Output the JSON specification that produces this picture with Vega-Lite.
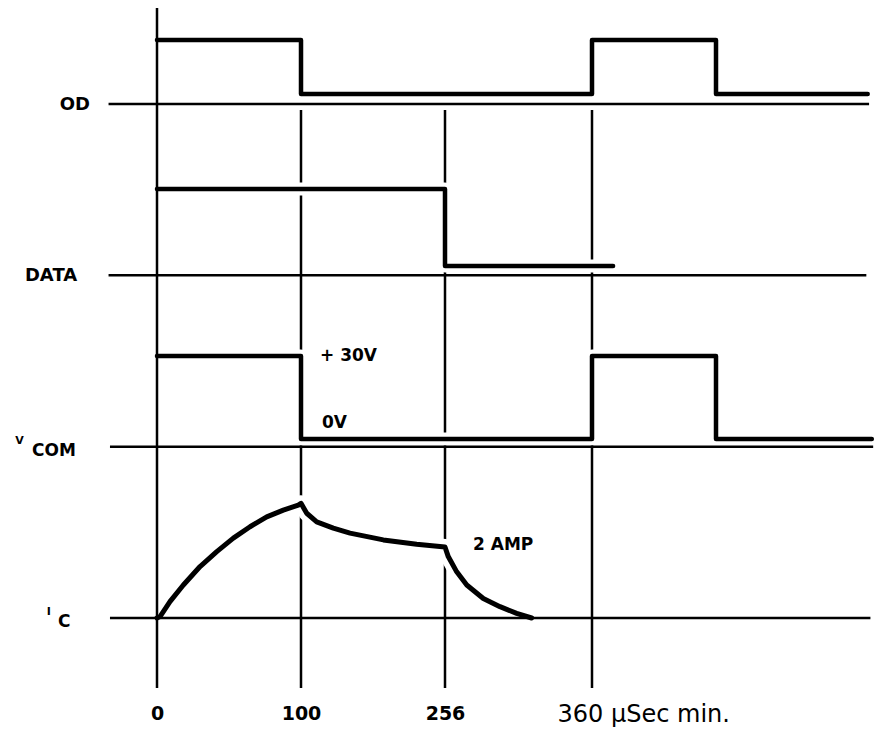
{
  "$schema": "https://vega.github.io/schema/vega-lite/v6.json",
  "width": 881,
  "height": 697,
  "padding": {"left": 0, "top": 0, "right": 0, "bottom": 34},
  "autosize": {"type": "none"},
  "background": "white",
  "config": {
    "view": {"stroke": null},
    "text": {"font": "DejaVu Sans", "fontWeight": "bold", "fontSize": 17, "baseline": "middle", "color": "black"}
  },
  "datasets": {
    "signals": [
      {"s": "OD", "i": 0, "t": 0, "v": 1},
      {"s": "OD", "i": 1, "t": 100, "v": 1},
      {"s": "OD", "i": 2, "t": 100, "v": 0},
      {"s": "OD", "i": 3, "t": 360, "v": 0},
      {"s": "OD", "i": 4, "t": 360, "v": 1},
      {"s": "OD", "i": 5, "t": 460, "v": 1},
      {"s": "OD", "i": 6, "t": 460, "v": 0},
      {"s": "OD", "i": 7, "t": 571, "v": 0},
      {"s": "DATA", "i": 0, "t": 0, "v": 1},
      {"s": "DATA", "i": 1, "t": 256, "v": 1},
      {"s": "DATA", "i": 2, "t": 256, "v": 0},
      {"s": "DATA", "i": 3, "t": 377, "v": 0},
      {"s": "VCOM", "i": 0, "t": 0, "v": 30},
      {"s": "VCOM", "i": 1, "t": 100, "v": 30},
      {"s": "VCOM", "i": 2, "t": 100, "v": 0},
      {"s": "VCOM", "i": 3, "t": 360, "v": 0},
      {"s": "VCOM", "i": 4, "t": 360, "v": 30},
      {"s": "VCOM", "i": 5, "t": 460, "v": 30},
      {"s": "VCOM", "i": 6, "t": 460, "v": 0},
      {"s": "VCOM", "i": 7, "t": 574, "v": 0},
      {"s": "IC", "i": 0, "t": 0, "v": 0},
      {"s": "IC", "i": 1, "t": 2.1, "v": 0.04},
      {"s": "IC", "i": 2, "t": 9.0, "v": 0.46},
      {"s": "IC", "i": 3, "t": 18.3, "v": 0.93},
      {"s": "IC", "i": 4, "t": 29.9, "v": 1.45},
      {"s": "IC", "i": 5, "t": 41.5, "v": 1.87},
      {"s": "IC", "i": 6, "t": 53.0, "v": 2.25},
      {"s": "IC", "i": 7, "t": 64.6, "v": 2.57},
      {"s": "IC", "i": 8, "t": 76.2, "v": 2.85},
      {"s": "IC", "i": 9, "t": 87.7, "v": 3.04},
      {"s": "IC", "i": 10, "t": 98.1, "v": 3.18},
      {"s": "IC", "i": 11, "t": 100, "v": 3.23},
      {"s": "IC", "i": 12, "t": 106.2, "v": 2.95},
      {"s": "IC", "i": 13, "t": 117.0, "v": 2.71},
      {"s": "IC", "i": 14, "t": 135.0, "v": 2.53},
      {"s": "IC", "i": 15, "t": 153.1, "v": 2.39},
      {"s": "IC", "i": 16, "t": 189.2, "v": 2.2},
      {"s": "IC", "i": 17, "t": 225.3, "v": 2.08},
      {"s": "IC", "i": 18, "t": 256, "v": 2.0},
      {"s": "IC", "i": 19, "t": 258.3, "v": 1.73},
      {"s": "IC", "i": 20, "t": 264.3, "v": 1.3},
      {"s": "IC", "i": 21, "t": 271.4, "v": 0.93},
      {"s": "IC", "i": 22, "t": 283.1, "v": 0.55},
      {"s": "IC", "i": 23, "t": 294.9, "v": 0.32},
      {"s": "IC", "i": 24, "t": 306.7, "v": 0.13},
      {"s": "IC", "i": 25, "t": 317.3, "v": 0}
    ],
    "guides": [{"t": 0}, {"t": 100}, {"t": 256}, {"t": 360}],
    "rows": [
      {"signal": "OD", "t": -34, "t2": 572},
      {"signal": "DATA", "t": -34, "t2": 570},
      {"signal": "VCOM", "t": -33, "t2": 575},
      {"signal": "IC", "t": -33, "t2": 573}
    ],
    "names": [
      {"signal": "OD", "t": -47, "label": "OD", "part": "main"},
      {"signal": "DATA", "t": -56, "label": "DATA", "part": "main"},
      {"signal": "VCOM", "t": -96.5, "label": "V", "part": "sup"},
      {"signal": "VCOM", "t": -87.7, "label": "COM", "part": "sub"},
      {"signal": "IC", "t": -76, "label": "I", "part": "sup"},
      {"signal": "IC", "t": -69.5, "label": "C", "part": "sub"}
    ]
  },
  "encoding": {
    "x": {
      "field": "t",
      "type": "quantitative",
      "scale": {"domain": [-40, 0, 100, 256, 360, 460, 580], "range": [100, 157, 301, 445, 592, 716, 880], "nice": false, "zero": false},
      "axis": {
        "values": [0, 100, 256],
        "domain": false,
        "ticks": false,
        "grid": false,
        "labelPadding": 7,
        "labelFlush": false,
        "labelOverlap": false,
        "labelColor": "black",
        "labelFont": "DejaVu Sans",
        "labelFontWeight": "bold",
        "labelFontSize": 19,
        "title": "360  µSec min.",
        "titleX": 557,
        "titleY": 5,
        "titleAlign": "left",
        "titleFont": "DejaVu Sans",
        "titleFontWeight": "normal",
        "titleFontSize": 24,
        "titleColor": "black"
      }
    }
  },
  "resolve": {"scale": {"y": "independent"}},
  "layer": [
    {
      "data": {"name": "guides"},
      "transform": [{"filter": "datum.t > 0"}],
      "mark": {"type": "rule", "stroke": "black", "strokeWidth": 2.5},
      "encoding": {"y": {"value": 110}, "y2": {"value": 688}}
    },
    {
      "data": {"name": "signals"},
      "transform": [{"filter": "datum.s === 'DATA'"}],
      "mark": {"type": "line", "stroke": "white", "strokeWidth": 13, "strokeJoin": "round"},
      "encoding": {
        "y": {"field": "v", "type": "quantitative", "scale": {"domain": [0, 1], "range": [266, 189]}, "axis": null},
        "order": {"field": "i", "type": "quantitative"}
      }
    },
    {
      "data": {"name": "signals"},
      "transform": [{"filter": "datum.s === 'VCOM'"}],
      "mark": {"type": "line", "stroke": "white", "strokeWidth": 13, "strokeJoin": "round"},
      "encoding": {
        "y": {"field": "v", "type": "quantitative", "scale": {"domain": [0, 30], "range": [439, 356]}, "axis": null},
        "order": {"field": "i", "type": "quantitative"}
      }
    },
    {
      "data": {"name": "signals"},
      "transform": [{"filter": "datum.s === 'IC'"}],
      "mark": {"type": "line", "stroke": "white", "strokeWidth": 16, "strokeJoin": "round"},
      "encoding": {
        "y": {"field": "v", "type": "quantitative", "scale": {"domain": [0, 2], "range": [618, 547]}, "axis": null},
        "order": {"field": "i", "type": "quantitative"}
      }
    },
    {
      "data": {"name": "rows"},
      "mark": {"type": "rule", "stroke": "black", "strokeWidth": 2.5},
      "encoding": {
        "x2": {"field": "t2"},
        "y": {"field": "signal", "type": "nominal", "scale": {"type": "point", "domain": ["OD", "DATA", "VCOM", "IC"], "range": [104, 618], "padding": 0}, "axis": null}
      }
    },
    {
      "data": {"name": "guides"},
      "transform": [{"filter": "datum.t === 0"}],
      "mark": {"type": "rule", "stroke": "black", "strokeWidth": 2.5},
      "encoding": {"y": {"value": 8}, "y2": {"value": 688}}
    },
    {
      "data": {"name": "signals"},
      "transform": [{"filter": "datum.s === 'OD'"}],
      "mark": {"type": "line", "stroke": "black", "strokeWidth": 4.5, "strokeJoin": "round", "strokeCap": "round"},
      "encoding": {
        "y": {"field": "v", "type": "quantitative", "scale": {"domain": [0, 1], "range": [94, 40]}, "axis": null},
        "order": {"field": "i", "type": "quantitative"}
      }
    },
    {
      "data": {"name": "signals"},
      "transform": [{"filter": "datum.s === 'DATA'"}],
      "mark": {"type": "line", "stroke": "black", "strokeWidth": 4.5, "strokeJoin": "round", "strokeCap": "round"},
      "encoding": {
        "y": {"field": "v", "type": "quantitative", "scale": {"domain": [0, 1], "range": [266, 189]}, "axis": null},
        "order": {"field": "i", "type": "quantitative"}
      }
    },
    {
      "data": {"name": "signals"},
      "transform": [{"filter": "datum.s === 'VCOM'"}],
      "mark": {"type": "line", "stroke": "black", "strokeWidth": 4.5, "strokeJoin": "round", "strokeCap": "round"},
      "encoding": {
        "y": {"field": "v", "type": "quantitative", "scale": {"domain": [0, 30], "range": [439, 356]}, "axis": null},
        "order": {"field": "i", "type": "quantitative"}
      }
    },
    {
      "data": {"name": "signals"},
      "transform": [{"filter": "datum.s === 'IC'"}],
      "mark": {"type": "line", "stroke": "black", "strokeWidth": 5, "strokeJoin": "round", "strokeCap": "round"},
      "encoding": {
        "y": {"field": "v", "type": "quantitative", "scale": {"domain": [0, 2], "range": [618, 547]}, "axis": null},
        "order": {"field": "i", "type": "quantitative"}
      }
    },
    {
      "data": {"name": "names"},
      "transform": [{"filter": "datum.part === 'main'"}],
      "mark": {"type": "text", "align": "right", "fontSize": 18, "dy": 1},
      "encoding": {
        "y": {"field": "signal", "type": "nominal", "scale": {"type": "point", "domain": ["OD", "DATA", "VCOM", "IC"], "range": [104, 618], "padding": 0}, "axis": null},
        "text": {"field": "label"}
      }
    },
    {
      "data": {"name": "names"},
      "transform": [{"filter": "datum.part === 'sup'"}],
      "mark": {"type": "text", "align": "center", "fontSize": 11, "dy": -6},
      "encoding": {
        "y": {"field": "signal", "type": "nominal", "scale": {"type": "point", "domain": ["OD", "DATA", "VCOM", "IC"], "range": [104, 618], "padding": 0}, "axis": null},
        "text": {"field": "label"}
      }
    },
    {
      "data": {"name": "names"},
      "transform": [{"filter": "datum.part === 'sub'"}],
      "mark": {"type": "text", "align": "left", "fontSize": 17, "dy": 4},
      "encoding": {
        "y": {"field": "signal", "type": "nominal", "scale": {"type": "point", "domain": ["OD", "DATA", "VCOM", "IC"], "range": [104, 618], "padding": 0}, "axis": null},
        "text": {"field": "label"}
      }
    },
    {
      "data": {"values": [{"t": 120.6, "v": 30, "label": "+ 30V"}]},
      "mark": {"type": "text", "align": "left", "fontSize": 17},
      "encoding": {
        "y": {"field": "v", "type": "quantitative", "scale": {"domain": [0, 30], "range": [439, 356]}, "axis": null},
        "text": {"field": "label"}
      }
    },
    {
      "data": {"values": [{"t": 122.8, "v": 0, "label": "0V"}]},
      "mark": {"type": "text", "align": "left", "fontSize": 17, "dy": -16},
      "encoding": {
        "y": {"field": "v", "type": "quantitative", "scale": {"domain": [0, 30], "range": [439, 356]}, "axis": null},
        "text": {"field": "label"}
      }
    },
    {
      "data": {"values": [{"t": 275.8, "v": 2, "label": "2 AMP"}]},
      "mark": {"type": "text", "align": "left", "fontSize": 17, "dy": -2},
      "encoding": {
        "y": {"field": "v", "type": "quantitative", "scale": {"domain": [0, 2], "range": [618, 547]}, "axis": null},
        "text": {"field": "label"}
      }
    }
  ]
}
